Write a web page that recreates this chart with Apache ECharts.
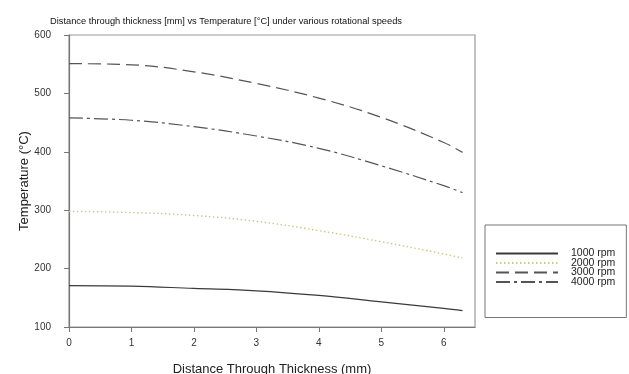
<!DOCTYPE html>
<html><head><meta charset="utf-8">
<script src="https://cdn.jsdelivr.net/npm/echarts@6/dist/echarts.min.js"></script>
<style>html,body{margin:0;padding:0;background:#fff}#c{width:629px;height:374px}</style>
</head><body><div id="c"></div>
<script>
const xValues = [0, 1, 2, 3, 4, 5, 6, 6.3];
const rpm1000 = [171, 170, 166, 162, 154, 143, 132, 128];
const rpm2000 = [298, 296, 291, 281, 265, 246, 225, 218];
const rpm3000 = [551, 549, 537, 517, 492, 459, 416, 399];
const rpm4000 = [458, 454, 443, 427, 406, 376, 342, 330];
const seriesNames = ['1000 rpm', '2000 rpm', '3000 rpm', '4000 rpm'];
const xTicks = [0, 1, 2, 3, 4, 5, 6];
const yTicks = [100, 200, 300, 400, 500, 600];

const pairs = arr => xValues.map((x, i) => [x, arr[i]]);
const styles = [
  {color: '#3a3a3a', type: 'solid', width: 1.2},
  {color: '#c8c98a', type: [1.5, 2.5], width: 1.4},
  {color: '#555555', type: [13, 6], width: 1.2},
  {color: '#555555', type: [14, 4, 3, 4], width: 1.2}
];
const allData = [rpm1000, rpm2000, rpm3000, rpm4000];

const chart = echarts.init(document.getElementById('c'), null, {renderer: 'canvas'});
chart.setOption({
  animation: false,
  title: {
    text: 'Distance through thickness [mm] vs Temperature [°C] under various rotational speeds',
    left: 45, top: 12,
    textStyle: {fontFamily: 'Liberation Sans, Arial', fontSize: 9.3, fontWeight: 'normal', color: '#111'}
  },
  grid: {left: 69, top: 35, right: 154, bottom: 47, show: true, borderColor: '#999', borderWidth: 1.2,
         containLabel: false, outerBoundsMode: 'none'},
  legend: {
    orient: 'vertical', left: 485, top: 225,
    padding: [23, 11, 30, 10],
    itemGap: -1.5, itemWidth: 62, itemHeight: 9.6,
    borderColor: '#777', borderWidth: 1, backgroundColor: '#fff',
    itemStyle: {opacity: 0},
    textStyle: {fontFamily: 'Liberation Sans, Arial', fontSize: 10.5, color: '#222', lineHeight: 9.6, height: 9.6, padding: [0, 0, 0, 8]},
    data: seriesNames
  },
  xAxis: {
    type: 'value', min: 0, max: 6.5,
    name: 'Distance Through Thickness (mm)', nameLocation: 'middle', nameGap: 36, nameMoveOverlap: false,
    nameTextStyle: {fontFamily: 'Liberation Sans, Arial', fontSize: 13, color: '#222'},
    axisLine: {lineStyle: {color: '#777', width: 1.2}},
    axisTick: {show: true, inside: false, length: 5, lineStyle: {color: '#777'}, customValues: xTicks},
    axisLabel: {customValues: xTicks, margin: 11, fontFamily: 'Liberation Sans, Arial', fontSize: 10, color: '#333'},
    splitLine: {show: false}
  },
  yAxis: {
    type: 'value', min: 100, max: 600, interval: 100,
    name: 'Temperature (°C)', nameLocation: 'middle', nameGap: 38, nameMoveOverlap: false,
    nameTextStyle: {fontFamily: 'Liberation Sans, Arial', fontSize: 13, color: '#222'},
    axisLine: {show: true, lineStyle: {color: '#777', width: 1.2}},
    axisTick: {show: true, inside: false, length: 5, lineStyle: {color: '#777'}},
    axisLabel: {margin: 18, fontFamily: 'Liberation Sans, Arial', fontSize: 10, color: '#333'},
    splitLine: {show: false}
  },
  series: seriesNames.map((n, i) => ({
    name: n, type: 'line', data: pairs(allData[i]), smooth: 0.4, showSymbol: false, symbol: 'none',
    lineStyle: styles[i], itemStyle: {color: styles[i].color}
  }))
});
</script></body></html>
